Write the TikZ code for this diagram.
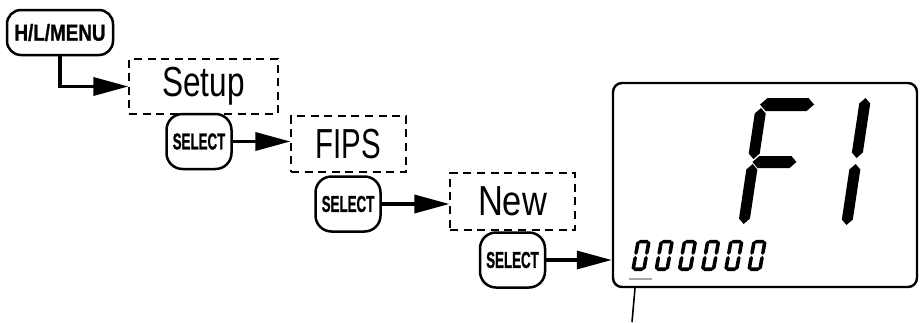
\documentclass[tikz,border=0pt]{standalone}
\usepackage{fontspec}
\setmainfont{Liberation Sans}
\newfontfamily\btnfont[FakeBold=1.2]{Liberation Sans Bold}
\usetikzlibrary{arrows.meta}
\newcommand\vseg[4]{\fill ({#1+#4/2},#2) -- ({#1+#4},{#2+#4/2}) -- ({#1+#4},{#3-#4/2}) -- ({#1+#4/2},#3) -- (#1,{#3-#4/2}) -- (#1,{#2+#4/2}) -- cycle;}
\newcommand\hseg[4]{\fill (#1,{#3+#4/2}) -- ({#1+#4/2},{#3+#4}) -- ({#2-#4/2},{#3+#4}) -- (#2,{#3+#4/2}) -- ({#2-#4/2},#3) -- ({#1+#4/2},#3) -- cycle;}
\newcommand\btntxt[2]{\scalebox{#1}[1]{\fontsize{11.5}{13}\selectfont\btnfont #2}}
\newcommand\menutxt[2]{\scalebox{#1}[1]{\fontsize{21}{24}\selectfont #2}}
\tikzset{
  btn/.style={draw, line width=1.25pt, rounded corners=8pt, inner sep=0pt, minimum width=32.5pt, minimum height=27.5pt},
  menubox/.style={draw, line width=0.6pt, dash pattern=on 4pt off 2.8pt, inner sep=0pt},
  arr/.style={line width=1.7pt, -{Triangle[length=17.5pt,width=9pt]}},
}
\begin{document}
\begin{tikzpicture}[x=0.5pt,y=-0.5pt]
\useasboundingbox (0,0) rectangle (920,322);
% buttons
\node[btn, rounded corners=7pt, minimum width=53pt, minimum height=22.5pt] (hl) at (60,32.5) {\btntxt{0.82}{H/L/MENU}};
\node[btn] (sel1) at (199,141.5) {\btntxt{0.58}{SELECT}};
\node[btn] (sel2) at (348,204) {\btntxt{0.58}{SELECT}};
\node[btn] (sel3) at (512.5,260) {\btntxt{0.58}{SELECT}};
% dashed menu boxes
\node[menubox, minimum width=74.5pt, minimum height=27.5pt] (setup) at (203.5,86.5) {\menutxt{0.75}{Setup}};
\node[menubox, minimum width=57.5pt, minimum height=28pt] (fips) at (348.5,144) {\menutxt{0.70}{FIPS}};
\node[menubox, minimum width=62.5pt, minimum height=28.5pt] (new) at (512.5,201.5) {\menutxt{0.82}{New}};
% LCD
\node[draw, line width=1.2pt, rounded corners=4.5pt, minimum width=152pt, minimum height=102pt, inner sep=0pt] (lcd) at (765,185) {};
% arrows
\draw[arr] (hl.south) |- (setup.west);
\draw[arr] (sel1.east) -- (sel1.east -| fips.west);
\draw[arr] (sel2.east) -- (sel2.east -| new.west);
\draw[arr] (sel3.east) -- (sel3.east -| lcd.west);
% big F1
\begin{scope}[shift={(738,225)}, xslant=0.15, yscale=-1]
  \hseg{4}{58}{114}{13}
  \vseg{0}{66}{117}{11}
  \hseg{5}{49}{57}{12}
  \vseg{0}{1}{61}{11}
  \vseg{103}{67}{127}{11}
  \vseg{103}{0}{61}{11}
\end{scope}
% small 000000
\foreach \k in {0,...,5}{
\begin{scope}[shift={({631+23.2*\k},271)}, xslant=0.18, yscale=-1]
  \hseg{1.8}{12.6}{27.6}{3.6}
  \hseg{1.8}{12.6}{0}{3.6}
  \vseg{0}{16.2}{30}{3.6}
  \vseg{0}{1.2}{15}{3.6}
  \vseg{10.8}{16.2}{30}{3.6}
  \vseg{10.8}{1.2}{15}{3.6}
\end{scope}}
% cursor underline and pointer
\coordinate (ul1) at (629,279);
\coordinate (ul2) at (652,279);
\draw[gray!70, line width=0.8pt] (ul1) -- (ul2);
\coordinate (ptrend) at (632,322);
\draw[line width=0.8pt] (lcd.south -| 635,0) -- (ptrend);
\end{tikzpicture}
\end{document}
